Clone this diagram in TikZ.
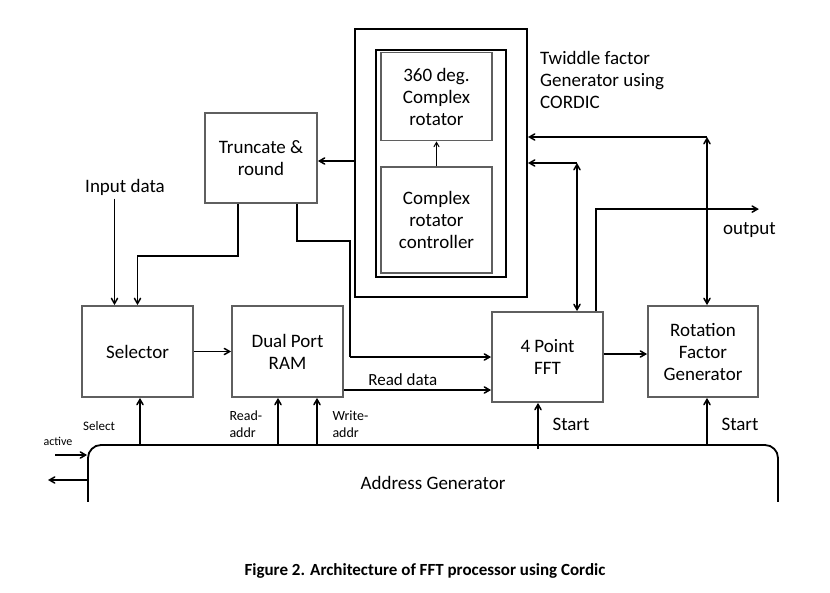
\documentclass[tikz,border=0pt]{standalone}
\usepackage{fontspec}
\setmainfont{Carlito}
\usetikzlibrary{shapes,arrows}
\definecolor{boxgray}{RGB}{95,95,95}
\tikzstyle{block} = [rectangle, draw=boxgray, line width=1.8pt, minimum width=111pt, minimum height=91pt, align=center, inner sep=0pt]
\tikzstyle{frame} = [rectangle, draw=black, line width=2pt, inner sep=0pt]
\tikzstyle{arrow} = [line width=1.5pt, ->, >=angle 60]
\tikzstyle{dblarrow} = [line width=1.5pt, <->, >=angle 60]
\tikzstyle{wire} = [line width=1.5pt]
\tikzstyle{lbl} = [font=\fontsize{17}{20}\selectfont]
\tikzstyle{small} = [font=\fontsize{14}{17}\selectfont, align=left]

\begin{document}
\begin{tikzpicture}[x=1pt, y=-1pt, font=\fontsize{19}{22}\selectfont]
    \useasboundingbox (0,0) rectangle (830,592);
    % Place nodes
    \node [frame, minimum width=172pt, minimum height=268pt] (tw) at (441,163) {};
    \node [frame, minimum width=130pt, minimum height=227pt] (twin) at (441,163) {};
    \node [block, minimum height=88pt] (rot) at (436.5,96.5) {360 deg.\\Complex\\rotator};
    \node [block, minimum height=106pt] (ctrl) at (436.5,220) {Complex\\rotator\\controller};
    \node [anchor=north west, align=left, inner sep=0pt] (twlbl) at (540,51) {Twiddle factor\\Generator using\\CORDIC};
    \node [block, minimum width=112pt, minimum height=90pt] (trunc) at (261,158) {Truncate \&\\round};
    \node (indata) at (125,187) {Input data};
    \node [block] (sel) at (137.5,351.5) {Selector};
    \node [block] (ram) at (287.5,351.5) {Dual Port\\RAM};
    \node [block, minimum height=90pt] (fft) at (547.5,357) {4 Point\\FFT};
    \node [block, minimum width=110pt] (rf) at (703,351.5) {Rotation\\Factor\\Generator};
    \begin{scope}
        \clip (0,0) rectangle (830,501);
        \node [draw, line width=1.8pt, rounded corners=13pt, minimum width=690pt, minimum height=76pt] (addr) at (433,483) {Address Generator};
    \end{scope}

    % helper points
    \coordinate (inx) at ([xshift=-23pt]sel.north);
    \coordinate (selx) at ([xshift=2.5pt]sel.south);
    \coordinate (rdx) at ([xshift=-9.5pt]ram.south);
    \coordinate (wrx) at ([xshift=29.5pt]ram.south);
    \coordinate (rd) at ([yshift=-38.5pt]ram.east);
    \coordinate (fa) at ([xshift=29.5pt]fft.north);
    \coordinate (fo) at ([xshift=48.5pt]fft.north);
    \coordinate (fs) at ([xshift=-9.5pt]fft.south);
    \coordinate (rx) at ([xshift=4pt]rf.north);
    \coordinate (rs) at ([xshift=4pt]rf.south);
    \coordinate (tw2) at ([yshift=26pt]tw.east);
    \coordinate (outp) at ([yshift=96pt]rf.north east);
    \coordinate (actin) at (55,455);
    \coordinate (actout) at (48,480);

    % Connections
    \draw [arrow] (inx |- indata.south) -- (inx);
    \draw [arrow] ([xshift=-23pt]trunc.south) -- ++(0,52) -| (sel.north);
    \draw [wire] ([xshift=36pt]trunc.south) -- ++(0,37) -| ([xshift=-141pt]fft.west);
    \draw [arrow] ([xshift=-141pt]fft.west) -- (fft.west);
    \draw [arrow] (tw.west |- 0,161) -- (trunc.east |- 0,161);
    \draw [->, >=angle 60, line width=1pt] (ctrl.north) -- (rot.south);
    \draw [arrow] (sel.east) -- (ram.west);
    \draw [arrow] (rd) -- node [lbl, above, pos=0.4] {Read data} (rd -| fft.west);
    \draw [arrow] (fft.east |- 0,354) -- (rf.west |- 0,354);
    \draw [arrow] (fa |- tw.east) -- (tw.east);
    \draw [dblarrow] (fa |- tw.east) -- (fa);
    \draw [arrow] (rx |- tw2) -- (tw2);
    \draw [dblarrow] (rx |- tw2) -- (rx);
    \draw [arrow] (fo) |- (outp);
    \node [anchor=north east, inner sep=0pt] (outlbl) at ([xshift=17pt, yshift=-13pt]outp) {output};

    \draw [arrow] (selx |- addr.north) -- (selx);
    \draw [arrow] (rdx |- addr.north) -- (rdx);
    \draw [arrow] (wrx |- addr.north) -- (wrx);
    \draw [arrow] ([yshift=-5pt]fs |- addr.north) -- (fs);
    \draw [arrow] (rs |- addr.north) -- (rs);
    \draw [arrow] (actin) -- (actin -| addr.west);
    \draw [arrow] (actout -| addr.west) -- (actout);

    % Labels
    \node [small, font=\fontsize{13}{15}\selectfont] (sellbl) at (99,426) {Select};
    \node [small, anchor=west] (rdlbl) at (226,424) {Read-\\addr};
    \node [small, anchor=west] (wrlbl) at (329,424) {Write-\\addr};
    \node [lbl, font=\fontsize{19}{22}\selectfont] (st1) at (571,424) {Start};
    \node [lbl, font=\fontsize{19}{22}\selectfont] (st2) at (740,424) {Start};
    \node [small, font=\fontsize{12}{15}\selectfont] (actlbl) at (58,441) {active};
    \node [font=\fontsize{17}{20}\selectfont\bfseries] (cap) at (425,571) {Figure 2. Architecture of FFT processor using Cordic};
\end{tikzpicture}
\end{document}
